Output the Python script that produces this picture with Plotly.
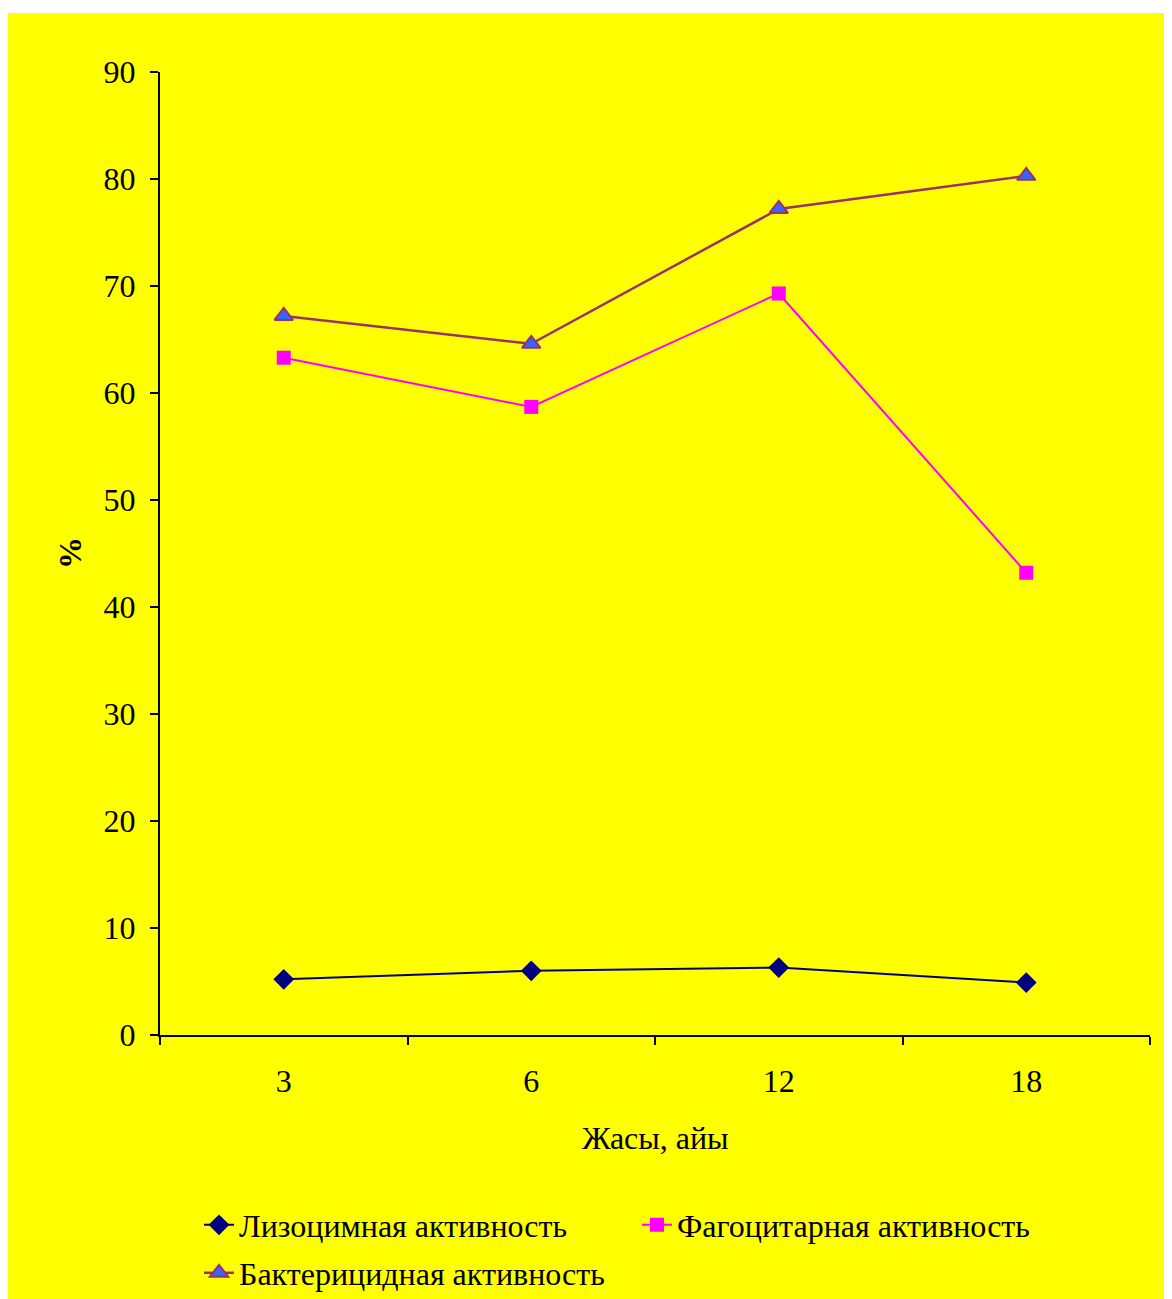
import plotly.graph_objects as go

categories = ["3", "6", "12", "18"]
lysozyme = [5.2, 6.0, 6.3, 4.9]
phagocytic = [63.3, 58.7, 69.3, 43.2]
bactericidal = [67.2, 64.6, 77.2, 80.3]

names = ["Лизоцимная активность", "Фагоцитарная активность", "Бактерицидная активность"]
tick_vals = list(range(0, 100, 10))

FONT = "Liberation Serif, Times New Roman, serif"
OFF = 8  # page body margin
W, H = 1172 - OFF, 1299 - OFF
L, R, T, B = 160 - OFF, 22, 72 - OFF, 264
pw = W - L - R
ph = H - T - B

# helpers take reference-image pixel coords
def px_x(p):
    return (p - OFF - L) / pw

def px_y(p):
    return (H - B - (p - OFF)) / ph

def cont_y(p):
    return 1 - (p - OFF) / H

fig = go.Figure()
fig.add_trace(go.Scatter(
    x=categories, y=lysozyme, name=names[0], mode="lines+markers",
    line=dict(color="#000080", width=2),
    marker=dict(symbol="diamond", size=16, color="#000080"),
    legend="legend",
))
fig.add_trace(go.Scatter(
    x=categories, y=phagocytic, name=names[1], mode="lines+markers",
    line=dict(color="#FF00FF", width=2),
    marker=dict(symbol="square", size=14, color="#FF00FF"),
    legend="legend",
))
fig.add_trace(go.Scatter(
    x=categories, y=bactericidal, name=names[2], mode="lines+markers",
    line=dict(color="#993366", width=2.5),
    marker=dict(symbol="triangle-up", size=16, color="#3366FF",
                line=dict(color="#993366", width=2)),
    legend="legend2",
))

leg_common = dict(
    orientation="h", xanchor="left", yanchor="middle", yref="container",
    entrywidth=393, entrywidthmode="pixels",
    bgcolor="rgba(0,0,0,0)", font=dict(family=FONT, size=32),
    tracegroupgap=0,
)

fig.update_layout(
    width=W, height=H,
    margin=dict(l=L, r=R, t=T, b=B, autoexpand=False),
    paper_bgcolor="#FFFF00",
    plot_bgcolor="#FFFF00",
    font=dict(family=FONT, size=32, color="black"),
    showlegend=True,
    legend=dict(x=px_x(199), y=cont_y(1225), **leg_common),
    legend2=dict(x=px_x(199), y=cont_y(1273), **leg_common),
    shapes=[
        dict(type="rect", xref="paper", yref="paper",
             x0=px_x(-10), x1=px_x(W + 20), y0=px_y(13), y1=px_y(-10),
             fillcolor="white", line=dict(width=0), layer="above"),
    ],
    annotations=[
        dict(text="<b>%</b>", xref="paper", yref="paper", x=px_x(70), y=px_y(553),
             showarrow=False, textangle=-90, font=dict(family=FONT, size=32),
             xanchor="center", yanchor="middle"),
        dict(text="Жасы, айы", xref="paper", yref="paper", x=px_x(655), y=px_y(1138),
             showarrow=False, font=dict(family=FONT, size=32),
             xanchor="center", yanchor="middle"),
    ],
)

fig.update_xaxes(
    type="category", categoryorder="array", categoryarray=categories,
    range=[-0.5, 3.5], showgrid=False, zeroline=False,
    showline=True, linecolor="black", linewidth=2,
    ticks="outside", tickson="boundaries", ticklen=8, tickwidth=2, tickcolor="black",
    ticklabelstandoff=17, tickfont=dict(family=FONT, size=32),
)
fig.update_yaxes(
    range=[0, 90], tickvals=tick_vals, showgrid=False, zeroline=False,
    showline=True, linecolor="black", linewidth=2,
    ticks="outside", ticklen=8, tickwidth=2, tickcolor="black",
    ticklabelstandoff=8, tickfont=dict(family=FONT, size=32),
)

fig.write_html("out.html")
